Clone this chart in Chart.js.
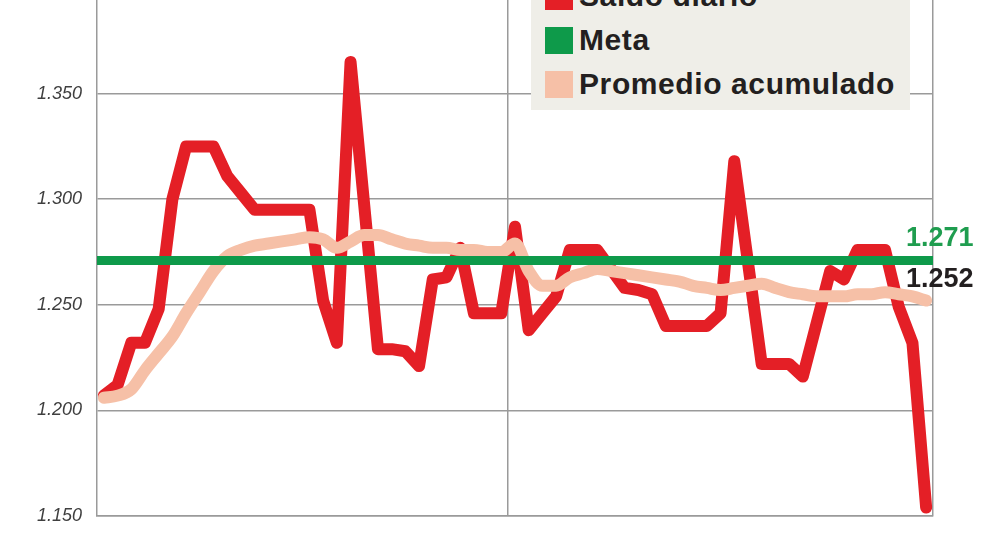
<!DOCTYPE html>
<html>
<head>
<meta charset="utf-8">
<title>Saldo diario</title>
<script src="https://cdn.jsdelivr.net/npm/chart.js@4.4.1/dist/chart.umd.min.js"></script>
<style>
  html, body { margin: 0; padding: 0; background: #fff; }
  body { width: 992px; height: 558px; overflow: hidden; position: relative; font-family: "Liberation Sans", Arial, sans-serif; }
  #wrap { position: absolute; left: 0; top: -60px; width: 992px; height: 620px; }
  #legend {
    position: absolute; left: 531px; top: -30px; width: 379px; height: 140px;
    background: #efeee8; box-sizing: border-box; padding: 4px 0 0 14px;
  }
  .item { height: 44px; display: flex; align-items: center; }
  .sw { width: 28px; height: 27px; margin-right: 6px; flex: none; }
  .txt { font-weight: bold; font-size: 30px; color: #231f20; letter-spacing: 0.6px; }
</style>
</head>
<body>
<div id="wrap"><canvas id="chart"></canvas></div>
<div id="legend"></div>
<script>
// daily balance, cumulative average and target (thousands)
var days = [];
for (var d = 1; d <= 61; d++) days.push(String(d));

var saldoDiario = [
  1207, 1212, 1232, 1232, 1248, 1300, 1325, 1325, 1325, 1311,
  1303, 1295, 1295, 1295, 1295, 1295, 1252, 1232, 1365, 1297,
  1229, 1229, 1228, 1221, 1262, 1263, 1277, 1246, 1246, 1246,
  1287, 1238, 1246, 1254, 1276, 1276, 1276, 1267, 1258, 1257,
  1255, 1240, 1240, 1240, 1240, 1246, 1318, 1270, 1222, 1222,
  1222, 1216, 1241, 1266, 1262, 1276, 1276, 1276, 1249, 1232,
  1154
];

var promedio = [
  1206, 1207, 1210, 1219, 1227, 1235, 1246, 1256, 1266, 1273,
  1276, 1278, 1279, 1280, 1281, 1282, 1281, 1277, 1280, 1283,
  1283, 1281, 1279, 1278, 1277, 1277, 1276, 1276, 1275, 1275,
  1279, 1266, 1259, 1259, 1263, 1265, 1267, 1266, 1265, 1264,
  1263, 1262, 1261, 1259, 1258, 1257, 1258, 1259, 1260, 1258,
  1256, 1255, 1254, 1254, 1254, 1255, 1255, 1256, 1255, 1254,
  1252
];

var meta = 1271;
var yTicks = [1150, 1200, 1250, 1300, 1350, 1400];

var RED = '#e41f26';
var GREEN = '#0e9a4a';
var PEACH = '#f6c0a7';
var GRID = '#9a9a9a';

function fmt(n) {
  return String(n).replace(/\B(?=(\d{3})+(?!\d))/g, '.');
}

// value labels at right end
var endLabels = {
  id: 'endLabels',
  afterDatasetsDraw: function(chart) {
    var ctx = chart.ctx;
    var y = chart.scales.y;
    var yMeta = y.getPixelForValue(meta);
    var x0 = chart.chartArea.right - 27;
    ctx.save();
    ctx.font = 'bold 27px "Liberation Sans", Arial, sans-serif';
    ctx.textAlign = 'left';
    ctx.textBaseline = 'alphabetic';
    ctx.fillStyle = '#1f9d4f';
    ctx.fillText(fmt(meta), x0, yMeta - 14);
    ctx.fillStyle = '#231f20';
    ctx.fillText(fmt(promedio[promedio.length - 1]), x0, yMeta + 27);
    ctx.restore();
  }
};

var config = {
  type: 'line',
  data: {
    labels: days,
    datasets: [{
      label: 'Saldo diario',
      data: saldoDiario,
      borderColor: RED,
      borderWidth: 12,
      borderCapStyle: 'round',
      borderJoinStyle: 'round',
      pointRadius: 0,
      tension: 0,
      order: 3
    }, {
      label: 'Meta',
      data: [{x: 0, y: meta}, {x: 1, y: meta}],
      xAxisID: 'x2',
      borderColor: GREEN,
      borderWidth: 9,
      borderCapStyle: 'butt',
      pointRadius: 0,
      order: 1
    }, {
      label: 'Promedio acumulado',
      data: promedio,
      borderColor: PEACH,
      borderWidth: 12,
      borderCapStyle: 'round',
      borderJoinStyle: 'round',
      pointRadius: 0,
      cubicInterpolationMode: 'monotone',
      order: 2
    }]
  },
  options: {
    responsive: true,
    maintainAspectRatio: false,
    animation: false,
    layout: { padding: { top: 48, right: 59, bottom: 44, left: 0 } },
    plugins: { legend: { display: false }, tooltip: { enabled: false } },
    scales: {
      x: {
        type: 'category',
        offset: true,
        ticks: { display: false },
        grid: {
          offset: true,
          drawTicks: false,
          lineWidth: 1.5,
          // only the mid-period line and the right frame
          color: function(c) {
            return (c.index === 30 || c.type === 'scale') ? GRID : 'rgba(0,0,0,0)';
          }
        },
        border: { display: true, color: GRID, width: 1.5 }
      },
      x2: {
        type: 'linear', min: 0, max: 1, display: false
      },
      y: {
        min: yTicks[0],
        max: yTicks[yTicks.length - 1],
        afterFit: function(s) { s.width = 97; },
        afterBuildTicks: function(s) {
          s.ticks = yTicks.map(function(v) { return { value: v }; });
        },
        ticks: {
          padding: 15,
          color: '#3f3f3f',
          font: { family: '"Liberation Sans", Arial, sans-serif', size: 18, style: 'italic' },
          callback: function(v) { return fmt(v); }
        },
        grid: { drawTicks: false, color: GRID, lineWidth: 1.5 },
        border: { display: true, color: GRID, width: 1.5 }
      }
    }
  },
  plugins: [endLabels]
};

var chart = new Chart(document.getElementById('chart').getContext('2d'), config);

// legend in original order
var legend = document.getElementById('legend');
chart.data.datasets.forEach(function(ds) {
  var row = document.createElement('div');
  row.className = 'item';
  var sw = document.createElement('span');
  sw.className = 'sw';
  sw.style.background = ds.borderColor;
  var t = document.createElement('span');
  t.className = 'txt';
  t.textContent = ds.label;
  row.appendChild(sw);
  row.appendChild(t);
  legend.appendChild(row);
});
</script>
</body>
</html>
